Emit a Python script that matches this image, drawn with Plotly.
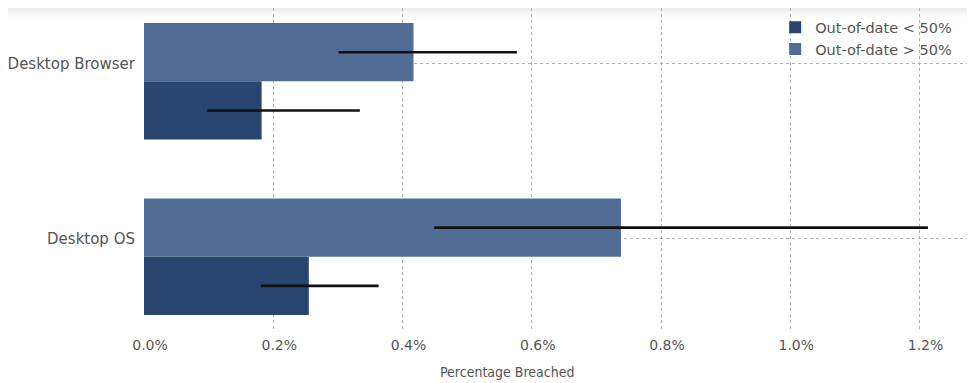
import plotly.graph_objects as go

categories = ["Desktop Browser", "Desktop OS"]
series_names = ["Out-of-date < 50%", "Out-of-date > 50%"]
lt50_values = [0.182, 0.255]
lt50_ci_low = [0.098, 0.181]
lt50_ci_high = [0.334, 0.363]
gt50_values = [0.417, 0.738]
gt50_ci_low = [0.301, 0.449]
gt50_ci_high = [0.577, 1.213]
x_ticks = [0.0, 0.2, 0.4, 0.6, 0.8, 1.0, 1.2]
x_tick_labels = [f"{v:.1f}%" for v in x_ticks]

DARK = "#27456f"
LIGHT = "#506c94"
TXT = "#555555"

# the page body adds an 8px offset, so the figure is 8px smaller each way
W, H = 967, 375

fig = go.Figure()

def add_series(name, vals, lo, hi, color, offset):
    fig.add_trace(go.Bar(
        name=name, y=categories, x=vals, orientation="h",
        marker=dict(color=color, line=dict(width=0)),
        offset=offset, width=0.332,
        error_x=dict(type="data", symmetric=False,
                     array=[h - v for h, v in zip(hi, vals)],
                     arrayminus=[v - l for v, l in zip(vals, lo)],
                     color="#111111", thickness=2.6, width=0),
    ))

add_series(series_names[0], lt50_values, lt50_ci_low, lt50_ci_high, DARK, -0.435)
add_series(series_names[1], gt50_values, gt50_ci_low, gt50_ci_high, LIGHT, -0.103)

# faint gray band at the very top (screenshot edge)
for i in range(6):
    fig.add_shape(type="rect", xref="paper", yref="paper",
                  x0=-0.2, x1=1.02, y0=1 - (2 * i) / 322, y1=1 - (2 * i + 2) / 322,
                  fillcolor="rgb(222,222,222)", opacity=0.55 * (1 - i / 6) ** 1.5,
                  line=dict(width=0), layer="below")

fig.add_annotation(text="Percentage Breached", xref="paper", yref="paper",
                   x=0.440, y=-0.130, xanchor="center", yanchor="middle",
                   showarrow=False,
                   font=dict(family="DejaVu Sans Condensed, DejaVu Sans", size=14, color=TXT))

fig.update_layout(
    width=W, height=H,
    margin=dict(l=136, r=7, t=0, b=53),
    paper_bgcolor="white", plot_bgcolor="rgba(0,0,0,0)",
    barmode="overlay",
    showlegend=True,
    legend=dict(x=0.766, y=0.99, xanchor="left", yanchor="top",
                bgcolor="rgba(0,0,0,0)", borderwidth=0,
                font=dict(family="DejaVu Sans", size=14.5, color=TXT),
                tracegroupgap=0, itemwidth=30),
    font=dict(family="DejaVu Sans", size=14.5, color=TXT),
    xaxis=dict(range=[0, 1.275], tickvals=x_ticks, ticktext=x_tick_labels,
               showgrid=True, gridcolor="#b0b0b0", griddash="dot", gridwidth=1,
               zeroline=False, showline=False, ticks="",
               ticklabelshift=6, ticklabelstandoff=5,
               tickfont=dict(family="DejaVu Sans", size=14, color=TXT)),
    yaxis=dict(type="category", categoryorder="array", categoryarray=categories[::-1],
               range=[-0.5205, 1.315],
               showgrid=True, gridcolor="#b0b0b0", griddash="dot", gridwidth=1,
               zeroline=False, showline=False, ticks="", ticklabelstandoff=8,
               tickfont=dict(family="DejaVu Sans", size=15, color=TXT)),
)

fig.write_html("out.html")
